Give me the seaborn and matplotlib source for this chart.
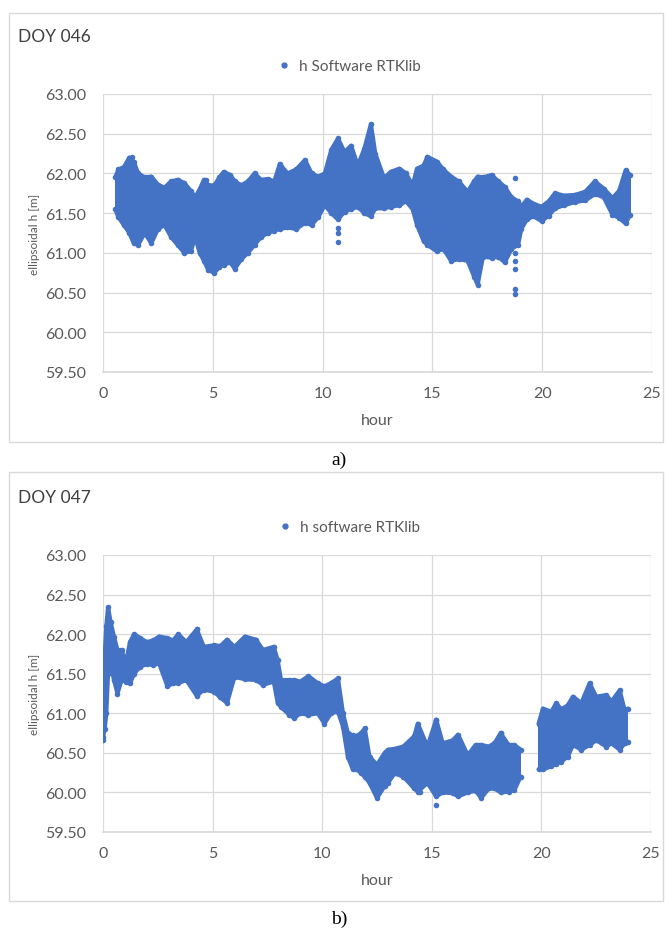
"""
plot.py - ellipsoidal height from RTKlib over two days (DOY 046 / DOY 047).
Band = lower/upper spread of the solutions read per time step, plus outliers.
"""

import numpy as np
import pandas as pd
import matplotlib
matplotlib.use("Agg")
import matplotlib.pyplot as plt
from matplotlib.patches import Rectangle
from matplotlib.lines import Line2D
import seaborn as sns

BLUE = "#4472C4"
GRID = "#D9D9D9"
TXT = "#595959"

# ---------- DOY 046 ----------
hour_a = [0.56, 0.7, 0.95, 1.2, 1.4, 1.6, 1.9, 2.2, 2.5, 2.8, 3.1, 3.4, 3.7, 4.0,
          4.2, 4.4, 4.6, 4.8, 5.07, 5.3, 5.5, 5.8, 6.0, 6.3, 6.6, 6.9, 7.2, 7.5,
          7.8, 8.05, 8.4, 8.8, 9.2, 9.5, 9.8, 10.1, 10.4, 10.7, 11.0, 11.3, 11.6,
          11.9, 12.2, 12.4, 12.8, 13.1, 13.5, 13.8, 14.1, 14.3, 14.6, 14.77, 15.2,
          15.5, 15.85, 16.2, 16.6, 16.9, 17.06, 17.3, 17.7, 18.0, 18.3, 18.6, 18.9,
          19.05, 19.3, 19.6, 19.97, 20.3, 20.58, 21.0, 21.5, 21.96, 22.4, 22.8,
          23.2, 23.5, 23.8, 24.0]
high_a = [61.95, 62.05, 62.08, 62.2, 62.15, 62.0, 61.95, 61.96, 61.86, 61.82, 61.9,
          61.92, 61.88, 61.78, 61.7, 61.8, 61.92, 61.85, 61.85, 61.95, 62.02, 61.98,
          61.9, 61.85, 61.9, 62.0, 61.92, 61.93, 61.9, 62.12, 62.0, 62.05, 62.17,
          62.0, 61.96, 62.0, 62.3, 62.44, 62.27, 62.35, 62.1, 62.31, 62.62, 62.25,
          61.94, 62.02, 62.06, 62.0, 61.85, 62.06, 62.1, 62.21, 62.15, 62.05, 61.96,
          61.9, 61.77, 61.9, 61.96, 61.95, 61.98, 61.9, 61.83, 61.7, 61.65, 61.58,
          61.67, 61.62, 61.58, 61.65, 61.75, 61.72, 61.73, 61.77, 61.9, 61.81,
          61.69, 61.78, 62.04, 61.98]
low_a = [61.55, 61.45, 61.35, 61.25, 61.12, 61.1, 61.25, 61.12, 61.3, 61.35, 61.2,
         61.1, 61.0, 61.02, 61.2, 61.0, 60.9, 60.78, 60.75, 60.82, 60.85, 60.88,
         60.8, 60.92, 61.0, 61.1, 61.2, 61.25, 61.28, 61.3, 61.32, 61.3, 61.38,
         61.35, 61.45, 61.6, 61.5, 61.42, 61.52, 61.55, 61.58, 61.5, 61.46, 61.56,
         61.56, 61.58, 61.6, 61.65, 61.55, 61.35, 61.15, 61.1, 61.02, 61.05, 60.9,
         60.92, 60.9, 60.7, 60.6, 60.95, 60.94, 60.95, 60.88, 61.05, 61.1, 61.3,
         61.42, 61.46, 61.4, 61.47, 61.56, 61.6, 61.64, 61.66, 61.74, 61.7, 61.48,
         61.44, 61.37, 61.48]
out_hour_a = [1.33, 4.69, 10.72, 10.72, 10.72, 18.78, 18.78, 18.78, 18.78, 18.78, 18.78]
out_h_a = [62.21, 61.92, 61.31, 61.25, 61.14, 61.94, 61.0, 60.9, 60.8, 60.54, 60.48]

# ---------- DOY 047 (data gap 19.05 - 19.87 h) ----------
hour_b1 = [0.0, 0.08, 0.15, 0.23, 0.35, 0.5, 0.66, 0.85, 1.04, 1.23, 1.42, 1.7, 2.0,
           2.3, 2.56, 2.94, 3.2, 3.43, 3.8, 4.28, 4.6, 5.08, 5.35, 5.66, 6.0, 6.48,
           6.98, 7.3, 7.79, 7.97, 8.12, 8.5, 8.73, 9.0, 9.37, 9.8, 10.1, 10.4, 10.72,
           10.95, 11.17, 11.4, 11.55, 11.78, 11.94, 12.16, 12.5, 12.85, 13.0, 13.3,
           13.7, 14.2, 14.36, 14.8, 15.2, 15.5, 15.96, 16.2, 16.64, 17.0, 17.25, 17.6,
           17.86, 18.14, 18.5, 18.77, 19.05]
high_b1 = [61.38, 61.75, 62.1, 62.34, 62.15, 61.97, 61.8, 61.8, 61.63, 61.9, 62.0,
           61.95, 61.9, 61.92, 61.97, 61.95, 61.92, 62.0, 61.9, 62.06, 61.84, 61.86,
           61.85, 61.93, 61.84, 61.97, 61.93, 61.8, 61.84, 61.67, 61.42, 61.42,
           61.42, 61.4, 61.47, 61.38, 61.34, 61.38, 61.44, 61.0, 60.75, 60.72, 60.71,
           60.75, 60.81, 60.45, 60.35, 60.5, 60.54, 60.55, 60.58, 60.71, 60.87, 60.58,
           60.92, 60.62, 60.66, 60.73, 60.47, 60.6, 60.6, 60.58, 60.62, 60.75, 60.6,
           60.6, 60.54]
low_b1 = [60.7, 60.8, 61.0, 61.5, 61.63, 61.42, 61.25, 61.42, 61.4, 61.38, 61.5,
          61.59, 61.62, 61.61, 61.63, 61.34, 61.38, 61.38, 61.42, 61.22, 61.3, 61.27,
          61.2, 61.13, 61.46, 61.43, 61.42, 61.36, 61.4, 61.13, 61.08, 60.98, 60.94,
          61.0, 60.98, 61.0, 60.87, 61.0, 61.02, 60.83, 60.45, 60.29, 60.3, 60.24,
          60.2, 60.12, 59.93, 60.08, 60.12, 60.24, 60.2, 60.05, 60.01, 60.12, 59.95,
          60.0, 59.99, 59.95, 60.0, 60.02, 59.93, 60.05, 60.05, 60.0, 60.01, 60.03,
          60.2]
hour_b2 = [19.87, 20.07, 20.45, 20.68, 20.9, 21.2, 21.44, 21.82, 22.2, 22.5, 22.96,
           23.2, 23.57, 23.8, 23.95]
high_b2 = [60.87, 61.06, 61.02, 61.13, 61.05, 61.1, 61.21, 61.13, 61.38, 61.21,
           61.23, 61.15, 61.29, 61.04, 61.06]
low_b2 = [60.29, 60.29, 60.33, 60.36, 60.39, 60.45, 60.6, 60.54, 60.6, 60.66, 60.58,
          60.62, 60.54, 60.62, 60.64]
out_hour_b = [0.02, 4.28, 15.2, 15.2, 18.14, 14.44]
out_h_b = [60.66, 62.06, 59.84, 60.92, 60.75, 60.01]

Y_TICKS = [59.5, 60.0, 60.5, 61.0, 61.5, 62.0, 62.5, 63.0]
X_TICKS = [0, 5, 10, 15, 20, 25]

sns.set_theme(style="white")
plt.rcParams["font.family"] = ["Lato", "DejaVu Sans"]

W, H = 665, 929
fig = plt.figure(figsize=(W / 100, H / 100), dpi=100)


def fx(px):
    return px / W


def fy(py):
    return 1 - py / H


def draw_panel(ax, segments, out_x, out_y):
    for hrs, lo, hi in segments:
        # one closed polygon: upper edge forward, lower edge back
        ax.fill(list(hrs) + list(hrs)[::-1], list(hi) + list(lo)[::-1],
                color=BLUE, lw=0, antialiased=False, zorder=2)
        # thick edges so the band outline looks like overlapping dots
        ax.plot(hrs, lo, color=BLUE, lw=3, solid_joinstyle="round", zorder=2)
        ax.plot(hrs, hi, color=BLUE, lw=3, solid_joinstyle="round", zorder=2)
        pts = pd.DataFrame({"hour": list(hrs) * 2, "h": list(lo) + list(hi)})
        sns.scatterplot(data=pts, x="hour", y="h", ax=ax, color=BLUE, s=16,
                        linewidth=0, zorder=3)
    sns.scatterplot(x=out_x, y=out_y, ax=ax, color=BLUE, s=16, linewidth=0, zorder=3)
    ax.set_xlim(0, 25)
    ax.set_ylim(59.5, 63.0)
    ax.set_xticks(X_TICKS)
    ax.set_yticks(Y_TICKS)
    ax.set_yticklabels([f"{v:.2f}" for v in Y_TICKS])
    ax.grid(True, color=GRID, lw=0.9)
    ax.set_axisbelow(True)
    for s in ["top", "right", "left"]:
        ax.spines[s].set_visible(False)
    ax.spines["bottom"].set_color(GRID)
    ax.tick_params(length=0, labelsize=11.5, colors=TXT)
    ax.tick_params(axis="x", pad=10)
    ax.tick_params(axis="y", pad=12)
    ax.set_xlabel("hour", fontsize=11.5, color=TXT)
    ax.set_ylabel("ellipsoidal h [m]", fontsize=8.5, color=TXT)
    ax.yaxis.set_label_coords(-0.115, 0.5)


panels = [
    (95, 373, 652, "DOY 046", "h Software RTKlib", "a)",
     [(hour_a, low_a, high_a)], out_hour_a, out_h_a, 14, 443),
    (556, 833, 651, "DOY 047", "h software RTKlib", "b)",
     [(hour_b1, low_b1, high_b1), (hour_b2, low_b2, high_b2)], out_hour_b, out_h_b, 473, 902),
]

for top, bot, right, title, leg, cap, segs, ox, oy, box_t, box_b in panels:
    ax = fig.add_axes([fx(103), fy(bot), fx(right - 103), (bot - top) / H])
    draw_panel(ax, segs, ox, oy)
    ax.xaxis.set_label_coords(0.5, -41 / (bot - top))
    # chart area frame
    fig.add_artist(Rectangle((fx(9), fy(box_b)), fx(654), (box_b - box_t) / H,
                             transform=fig.transFigure, fill=False,
                             edgecolor=GRID, lw=1))
    fig.text(fx(18), fy(top - 58), title, fontsize=12.5, color="#404040",
             ha="left", va="center")
    handle = Line2D([], [], marker="o", ls="", color=BLUE, markersize=3.5)
    fig.legend([handle], [leg], loc="center", frameon=False, fontsize=11,
               labelcolor=TXT, handletextpad=0.0,
               bbox_to_anchor=(fx(345), fy(top - 28)))
    fig.text(fx(339), fy(box_b + 17), cap, fontsize=14, ha="center", va="center",
             family=["Liberation Serif", "DejaVu Serif"], color="black")

fig.savefig("out.png", dpi=100)
